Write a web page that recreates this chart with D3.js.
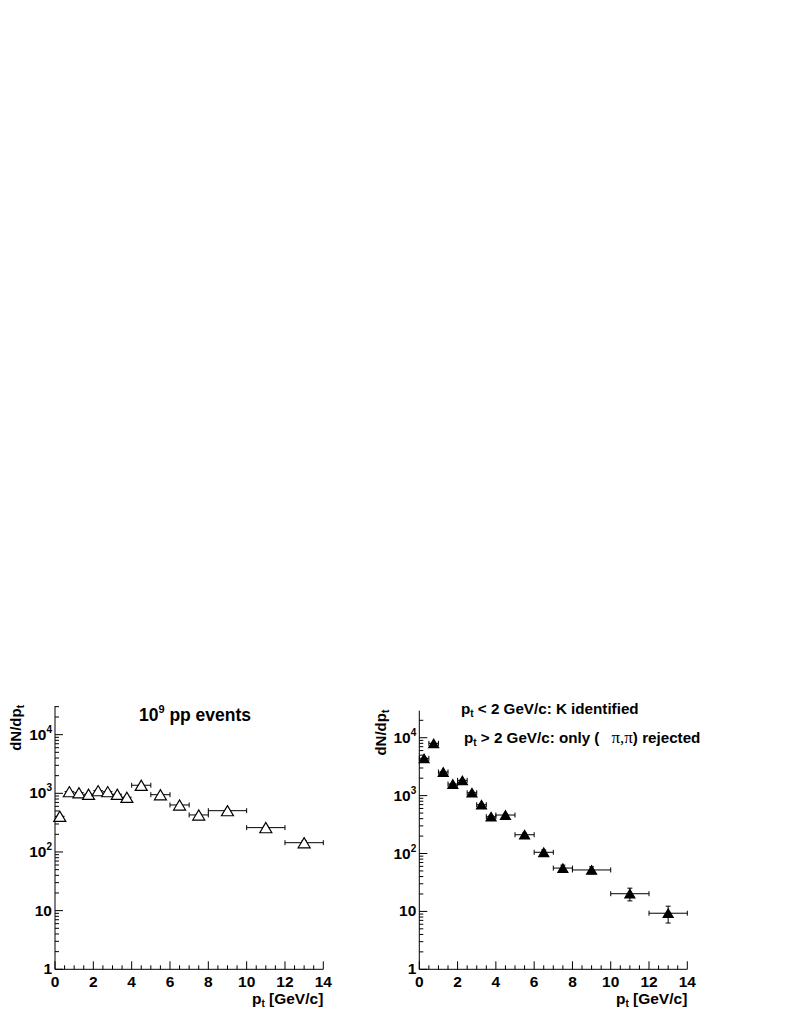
<!DOCTYPE html>
<html>
<head>
<meta charset="utf-8">
<script src="https://cdn.jsdelivr.net/npm/d3@7"></script>
<style>
  html, body { margin: 0; padding: 0; background: #fff; }
  svg { display: block; }
  text { font-family: "Liberation Sans", Arial, Helvetica, sans-serif; font-weight: bold; fill: #000; }
</style>
</head>
<body>
<svg id="chart" width="790" height="1022"></svg>
<script>
// ---- data ----
const binCenters = [0.25, 0.75, 1.25, 1.75, 2.25, 2.75, 3.25, 3.75, 4.5, 5.5, 6.5, 7.5, 9, 11, 13];
const binHalfWidths = [0.25, 0.25, 0.25, 0.25, 0.25, 0.25, 0.25, 0.25, 0.5, 0.5, 0.5, 0.5, 1, 1, 1];
const allEventsValues = [406, 1067, 1025, 963, 1110, 1067, 963, 857, 1372, 948, 633, 428, 506, 260, 144];
const allEventsErrors = [20, 33, 32, 31, 33, 33, 31, 29, 37, 30, 25, 21, 22, 16, 12];
const selectedValues = [4410, 8000, 2556, 1585, 1838, 1122, 697, 432, 462, 211, 105, 56, 52, 20.2, 9.3];
const selectedErrors = [60, 90, 50, 40, 40, 30, 25, 20, 20, 14, 10, 7, 7, 5, 3];
const xTickValues = [0, 2, 4, 6, 8, 10, 12, 14];
const yTickExponents = [0, 1, 2, 3, 4];
const leftTitle = "pp events";
const rightLine1 = "GeV/c: K identified";
const rightLine2 = "GeV/c: only (";

const svg = d3.select("#chart");

function drawPanel(opt) {
  const g = svg.append("g");
  const x = d3.scaleLinear().domain([0, 14]).range([opt.x0, opt.x1]);
  const y = d3.scaleLog().domain([1, opt.yMax]).range([opt.yBottom, opt.yTop]);

  // x axis
  const xMinor = d3.range(0, 14.001, 0.5).filter(v => Math.abs(v / 2 - Math.round(v / 2)) > 1e-6);
  const xAxis = g.append("g");
  xAxis.append("line").attr("x1", opt.x0).attr("x2", opt.x1)
    .attr("y1", opt.yBottom).attr("y2", opt.yBottom).attr("stroke", "#000").attr("stroke-width", 1);
  xAxis.selectAll("line.maj").data(xTickValues).join("line").attr("class", "maj")
    .attr("x1", d => x(d)).attr("x2", d => x(d))
    .attr("y1", opt.yBottom).attr("y2", opt.yBottom - 8).attr("stroke", "#000");
  xAxis.selectAll("line.min").data(xMinor).join("line").attr("class", "min")
    .attr("x1", d => x(d)).attr("x2", d => x(d))
    .attr("y1", opt.yBottom).attr("y2", opt.yBottom - 4).attr("stroke", "#000");
  xAxis.selectAll("text").data(xTickValues).join("text")
    .attr("x", d => x(d)).attr("y", opt.yBottom + 18)
    .attr("text-anchor", "middle").attr("font-size", 15.5).text(d => d);

  // x title
  const xt = g.append("text").attr("x", opt.x1).attr("y", opt.yBottom + 35)
    .attr("text-anchor", "end").attr("font-size", 15.5);
  xt.append("tspan").text("p");
  xt.append("tspan").attr("font-size", 10).attr("dy", 3).text("t");
  xt.append("tspan").attr("dy", -3).text(" [GeV/c]");

  // y axis
  const yAxis = g.append("g");
  yAxis.append("line").attr("x1", opt.x0).attr("x2", opt.x0)
    .attr("y1", opt.yBottom).attr("y2", opt.yTop).attr("stroke", "#000");
  const majors = yTickExponents.map(e => Math.pow(10, e));
  const minors = [];
  for (let e = 0; e <= 4; e++) for (let k = 2; k <= 9; k++) {
    const v = k * Math.pow(10, e);
    if (v <= opt.yMax) minors.push(v);
  }
  yAxis.selectAll("line.maj").data(majors).join("line").attr("class", "maj")
    .attr("x1", opt.x0).attr("x2", opt.x0 + 8)
    .attr("y1", d => y(d)).attr("y2", d => y(d)).attr("stroke", "#000");
  yAxis.selectAll("line.min").data(minors).join("line").attr("class", "min")
    .attr("x1", opt.x0).attr("x2", opt.x0 + 4)
    .attr("y1", d => y(d)).attr("y2", d => y(d)).attr("stroke", "#000");
  yTickExponents.forEach(e => {
    const t = yAxis.append("text").attr("x", opt.x0 - 3).attr("y", y(Math.pow(10, e)) + 5)
      .attr("text-anchor", "end").attr("font-size", 15.5);
    if (e === 0) t.text("1");
    else if (e === 1) t.text("10");
    else {
      t.append("tspan").text("10");
      t.append("tspan").attr("font-size", 10).attr("dy", -7).text(e);
    }
  });

  // y title
  const yt = g.append("text")
    .attr("transform", `translate(${opt.yTitleX},${opt.yTop - 1}) rotate(-90)`)
    .attr("text-anchor", "end").attr("font-size", 15);
  yt.append("tspan").text("dN/dp");
  yt.append("tspan").attr("font-size", 10).attr("dy", 3).text("t");

  // error bars + markers
  const pts = binCenters.map((c, i) => ({
    x: c, hw: binHalfWidths[i], v: opt.values[i], err: opt.errors[i]
  }));
  const eb = g.append("g").attr("stroke", "#000").attr("stroke-width", 1);
  pts.forEach(p => {
    const cy = y(p.v);
    eb.append("line").attr("x1", x(p.x - p.hw)).attr("x2", x(p.x + p.hw)).attr("y1", cy).attr("y2", cy);
    if (opt.smallCaps || p.hw > 0.3) {
      eb.append("line").attr("x1", x(p.x - p.hw)).attr("x2", x(p.x - p.hw)).attr("y1", cy - 2.5).attr("y2", cy + 2.5);
      eb.append("line").attr("x1", x(p.x + p.hw)).attr("x2", x(p.x + p.hw)).attr("y1", cy - 2.5).attr("y2", cy + 2.5);
    }
    const yl = y(Math.max(p.v - p.err, 0.5)), yh = y(p.v + p.err);
    eb.append("line").attr("x1", x(p.x)).attr("x2", x(p.x)).attr("y1", yl).attr("y2", yh);
    eb.append("line").attr("x1", x(p.x) - 2.5).attr("x2", x(p.x) + 2.5).attr("y1", yl).attr("y2", yl);
    eb.append("line").attr("x1", x(p.x) - 2.5).attr("x2", x(p.x) + 2.5).attr("y1", yh).attr("y2", yh);
  });
  const s = opt.markerHalf;
  g.append("g").selectAll("path").data(pts).join("path")
    .attr("d", p => {
      const cx = x(p.x), cy = y(p.v);
      return `M${cx - s},${cy + s * 0.85}L${cx + s},${cy + s * 0.85}L${cx},${cy - s * 0.85}Z`;
    })
    .attr("fill", opt.filled ? "#000" : "#fff")
    .attr("stroke", "#000").attr("stroke-width", 1.2);

  return { x, y };
}

drawPanel({
  x0: 55, x1: 323.3, yBottom: 969.3, yTop: 706, yMax: 30800, yTitleX: 21,
  values: allEventsValues, errors: allEventsErrors, filled: false, markerHalf: 6, smallCaps: false
});
drawPanel({
  x0: 419.3, x1: 687.3, yBottom: 969.3, yTop: 710.7, yMax: 29300, yTitleX: 386,
  values: selectedValues, errors: selectedErrors, filled: true, markerHalf: 5, smallCaps: true
});

// titles
const t1 = svg.append("text").attr("x", 195).attr("y", 721).attr("text-anchor", "middle").attr("font-size", 17.5);
t1.append("tspan").text("10");
t1.append("tspan").attr("font-size", 11).attr("dy", -8).text("9");
t1.append("tspan").attr("dy", 8).text(" " + leftTitle);

const r1 = svg.append("text").attr("x", 461).attr("y", 714).attr("font-size", 15.2);
r1.append("tspan").text("p");
r1.append("tspan").attr("font-size", 10).attr("dy", 3).text("t");
r1.append("tspan").attr("dy", -3).text(" < 2 " + rightLine1);

const r2 = svg.append("text").attr("x", 464).attr("y", 743).attr("font-size", 15.2);
r2.append("tspan").text("p");
r2.append("tspan").attr("font-size", 10).attr("dy", 3).text("t");
r2.append("tspan").attr("dy", -3).text(" > 2 " + rightLine2);
r2.append("tspan").attr("dx", 12).attr("font-family", "'Liberation Serif', 'Times New Roman', serif")
  .attr("font-weight", "normal").attr("font-size", 17).text("π,π");
r2.append("tspan").text(") rejected");
</script>
</body>
</html>
